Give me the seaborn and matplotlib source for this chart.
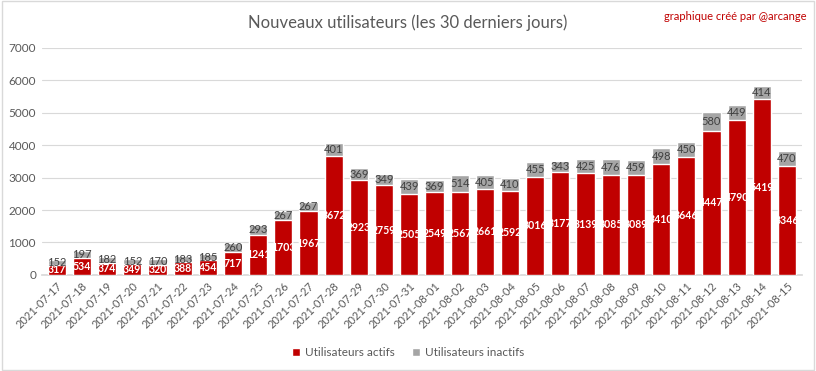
import matplotlib
matplotlib.use("Agg")
import matplotlib.pyplot as plt
import seaborn as sns
import pandas as pd
from matplotlib.patches import Rectangle, Patch

dates = ["2021-07-17","2021-07-18","2021-07-19","2021-07-20","2021-07-21","2021-07-22",
         "2021-07-23","2021-07-24","2021-07-25","2021-07-26","2021-07-27","2021-07-28",
         "2021-07-29","2021-07-30","2021-07-31","2021-08-01","2021-08-02","2021-08-03",
         "2021-08-04","2021-08-05","2021-08-06","2021-08-07","2021-08-08","2021-08-09",
         "2021-08-10","2021-08-11","2021-08-12","2021-08-13","2021-08-14","2021-08-15"]
actifs = [317,534,374,349,320,388,454,717,1241,1703,1967,3672,2923,2759,2505,2549,2567,
          2661,2592,3016,3177,3139,3085,3089,3410,3646,4447,4790,5419,3346]
inactifs = [152,197,182,152,170,183,185,260,293,267,267,401,369,349,439,369,514,405,
            410,455,343,425,476,459,498,450,580,449,414,470]
yticks = [0,1000,2000,3000,4000,5000,6000,7000]

RED = "#C00000"
GREY = "#A5A5A5"

sns.set_theme(style="white")
plt.rcParams["font.family"] = ["Lato", "DejaVu Sans"]

df = pd.DataFrame({"date": dates, "actifs": actifs, "inactifs": inactifs})
df["total"] = df["actifs"] + df["inactifs"]

fig = plt.figure(figsize=(8.16, 3.71), dpi=100)
ax = fig.add_axes([0.051, 0.259, 0.932, 0.612])

sns.barplot(data=df, x="date", y="total", color=GREY, saturation=1, width=0.72, ax=ax, zorder=2)
sns.barplot(data=df, x="date", y="actifs", color=RED, saturation=1, width=0.72, ax=ax, zorder=3)

for i, (a, n) in enumerate(zip(actifs, inactifs)):
    ax.text(i, a / 2, str(a), ha="center", va="center", color="white",
            fontsize=7.6, fontweight="bold", zorder=4)
    ax.text(i, a + n / 2, str(n), ha="center", va="center", color="#404040",
            fontsize=8, zorder=4)

ax.set_ylim(0, 7000)
ax.set_xlim(-0.6, len(dates) - 0.4)
ax.set_yticks(yticks)
ax.set_yticklabels([str(v) for v in yticks], fontsize=8.5, color="#595959")
ax.set_xticks(range(len(dates)))
ax.set_xticklabels(dates, rotation=45, ha="right", rotation_mode="anchor",
                   fontsize=8, color="#595959")
ax.tick_params(axis="both", length=0, pad=4)
ax.yaxis.grid(True, color="#D9D9D9", linewidth=0.8, zorder=0)
ax.set_axisbelow(True)
for s in ["top", "right", "left"]:
    ax.spines[s].set_visible(False)
ax.spines["bottom"].set_color("#D9D9D9")
ax.set_xlabel("")
ax.set_ylabel("")

fig.text(0.5, 0.94, "Nouveaux utilisateurs (les 30 derniers jours)", ha="center",
         va="center", fontsize=12, color="#595959")
fig.text(0.988, 0.955, "graphique créé par @arcange", ha="right", va="center",
         fontsize=8, color=RED)

handles = [Patch(facecolor=RED, label="Utilisateurs actifs"),
           Patch(facecolor=GREY, label="Utilisateurs inactifs")]
fig.legend(handles=handles, loc="center", bbox_to_anchor=(0.5, 0.05), ncol=2,
           frameon=False, fontsize=8.5, handlelength=0.7, handleheight=0.7,
           handletextpad=0.4, columnspacing=1.5, labelcolor="#595959")

fig.add_artist(Rectangle((0.002, 0.003), 0.996, 0.994, transform=fig.transFigure,
                         fill=False, edgecolor="#D9D9D9", linewidth=1))

fig.savefig("out.png", dpi=100, facecolor="white")
